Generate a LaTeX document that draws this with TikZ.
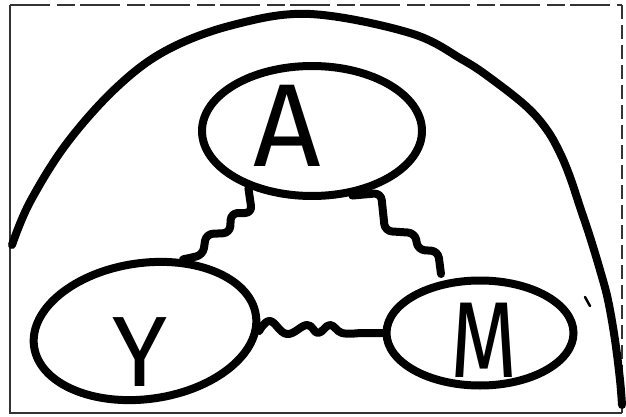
\documentclass[tikz,border=0pt]{standalone}
\usepackage{fontspec}
\setmainfont{Fira Sans}
\usetikzlibrary{shapes.geometric}
\tikzset{
  ell/.style={ellipse, draw, line width=8pt, inner sep=0pt},
  lbl/.style={inner sep=0pt},
  link/.style={line width=8pt, line cap=round, line join=round, rounded corners=7pt},
  frame/.style={black!80, line width=2pt}
}
\newcommand{\lettersize}[1]{\fontsize{#1}{#1}\selectfont}
\begin{document}
\begin{tikzpicture}[x=1pt,y=-1pt]
\useasboundingbox (0,0) rectangle (626,417);
\fill[white] (0,0) rectangle (626,417);
% scanned frame
\coordinate (f1) at (10,5);
\coordinate (f2) at (622,5);
\coordinate (f3) at (622,413);
\coordinate (f4) at (10,413);
\draw[frame] (f1) -- (f4) -- (f3);
\draw[frame, dash pattern=on 40pt off 7pt on 18pt off 5pt] (f1) -- (f2);
\draw[frame, dash pattern=on 14pt off 6pt] (f2) -- (f3);
% dome
\draw[line width=8pt, line cap=round] plot[smooth, tension=0.6] coordinates {
 (12,245) (30,202) (67,143) (117,87) (167,50) (233,25) (310,14) (410,33)
 (463,60) (493,80) (527,107) (547,130) (560,153) (570,177) (580,207) (590,237)
 (600,270) (608,300) (615,340) (620,380) (622,405)};
% stray stroke
\draw[line width=2.5pt, line cap=round] (585,297) -- (590,306);
% ellipses
\node[ell, minimum width=220pt, minimum height=130pt] (A) at (312,131) {};
\node[ell, minimum width=224pt, minimum height=136pt, rotate=8] (Y) at (145,331) {};
\node[ell, minimum width=187pt, minimum height=105pt] (M) at (480,333) {};
% labels
\node[lbl] (Al) at (287,126) {\lettersize{118}A};
\node[lbl] (Yl) at (140,352) {\lettersize{100}Y};
\node[lbl] (Ml) at (484,340) {\lettersize{108}\scalebox{0.8}[1]{M}};
% wavy links
\coordinate (amEnd) at (441,274);
\draw[link] (A.222) -- (252,213) -- (231,213) -- (230,233) -- (206,234) -- (203,255) -- (Y.54);
\draw[link] (A.302) -- (381,193) -- (385,231) -- (415,233) -- (418,250) -- (438,251) -- (amEnd);
\draw[line width=8pt, line cap=round, line join=round] plot[smooth, tension=0.7] coordinates {
 (Y.352.5) (270,321) (287,334) (307,325) (318,333) (330,325) (342,333) (360,333)} -- (M.west);
\end{tikzpicture}
\end{document}
